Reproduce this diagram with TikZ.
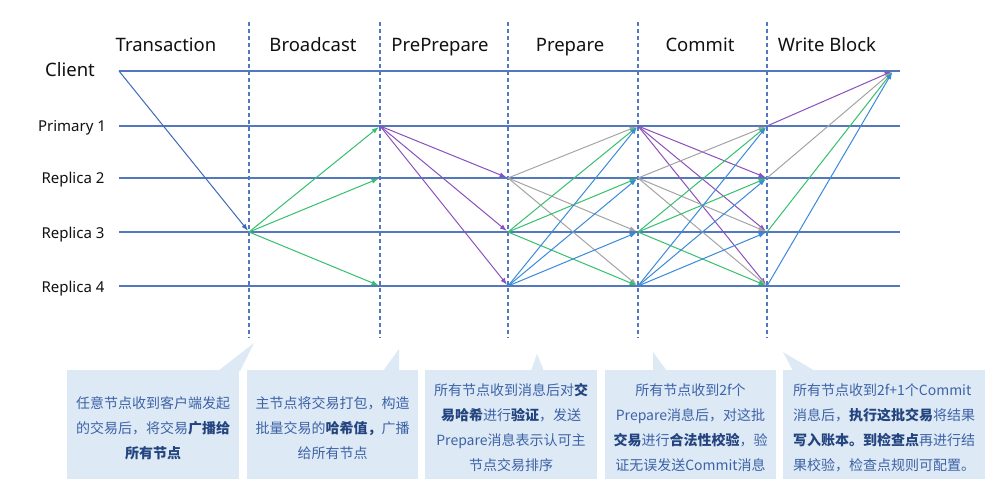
\documentclass[tikz,border=0pt]{standalone}
\usepackage{fontspec}
\setmainfont{Noto Sans}
\newfontfamily\cjk{Noto Sans CJK SC}
\usetikzlibrary{arrows.meta}
\definecolor{lineblue}{HTML}{5278C0}
\definecolor{arrblue}{HTML}{3A8ADA}
\definecolor{cliblue}{HTML}{3F6AB8}
\definecolor{arrgreen}{HTML}{34C06C}
\definecolor{arrpurple}{HTML}{8C4FBE}
\definecolor{arrgray}{HTML}{A4A4A4}
\definecolor{boxfill}{HTML}{DDEAF6}
\definecolor{boxtext}{HTML}{3D62A6}
\definecolor{boldtext}{HTML}{23447F}
\definecolor{headtext}{HTML}{111111}
\newcommand\hl[1]{{\bfseries\color{boldtext}#1}}
\tikzset{
  header/.style={font=\fontsize{18.5}{20}\selectfont, text=headtext, inner sep=0pt, anchor=base},
  rowlab/.style={font=\fontsize{15}{17}\selectfont, text=headtext, inner sep=0pt, anchor=base},
  clientlab/.style={font=\fontsize{18.5}{20}\selectfont, text=headtext, inner sep=0pt, anchor=base},
  hline/.style={draw=lineblue, line width=1.2pt},
  vdash/.style={draw=lineblue, line width=1.1pt, dash pattern=on 4pt off 3pt},
  msg/.style={line width=1pt, -{Latex[length=7pt,width=5pt]}, shorten >=1.5pt},
  bx/.style={fill=boxfill, inner sep=0pt, minimum height=109pt},
  bxtext/.style={font=\cjk\fontsize{14}{25}\selectfont, text=boxtext, align=center, inner sep=0pt},
}
\begin{document}
\begin{tikzpicture}[x=1pt,y=-1pt]
\useasboundingbox[fill=white] (0,0) rectangle (1000,497);

% headers
\node[header] (hT) at (166,52) {Transaction};
\node[header] (hB) at (313,52) {Broadcast};
\node[header] (hPP) at (440,52) {PrePrepare};
\node[header] (hP) at (570,52) {Prepare};
\node[header] (hC) at (700,52) {Commit};
\node[header] (hW) at (827,52) {Write Block};

% row labels
\node[clientlab] (lC) at (70,77) {Client};
\node[rowlab] (l1) at (72,132) {Primary 1};
\node[rowlab] (l2) at (73,183.5) {Replica 2};
\node[rowlab] (l3) at (73,238) {Replica 3};
\node[rowlab] (l4) at (73,292) {Replica 4};

% horizontal lines
\coordinate (s0) at (119,71);  \coordinate (e0) at (900,71);
\foreach \n/\y in {1/126,2/178,3/232,4/286}{
  \coordinate (s\n) at (119,\y);
  \coordinate (e\n) at (900,\y);
}
\foreach \n in {0,1,2,3,4}{ \draw[hline] (s\n) -- (e\n); }

% dashed phase separators
\foreach \p/\x in {A/249,B/380,C/508,D/638,E/767}{
  \coordinate (t\p) at (\x,22);
  \coordinate (b\p) at (\x,338);
  \draw[vdash] (t\p) -- (b\p);
}

% grid points
\foreach \n/\y in {1/126,2/178,3/232,4/286}{
  \foreach \p/\x in {A/249,B/380,C/508,D/638,E/767}{
    \coordinate (\p\n) at (\x,\y);
  }
}
\coordinate (W) at (893,71);

% client request
\draw[msg, cliblue] (s0) -- (A3);
% broadcast
\foreach \t in {1,2,4}{ \draw[msg, arrgreen] (A3) -- (B\t); }
% preprepare
\foreach \t in {2,3,4}{ \draw[msg, arrpurple] (B1) -- (C\t); }
% prepare
\foreach \t in {1,3,4}{ \draw[msg, arrgray] (C2) -- (D\t); }
\foreach \t in {1,2,4}{ \draw[msg, arrgreen] (C3) -- (D\t); }
\foreach \t in {1,2,3}{ \draw[msg, arrblue] (C4) -- (D\t); }
% commit
\foreach \t in {2,3,4}{ \draw[msg, arrpurple] (D1) -- (E\t); }
\foreach \t in {1,3,4}{ \draw[msg, arrgray] (D2) -- (E\t); }
\foreach \t in {1,2,4}{ \draw[msg, arrgreen] (D3) -- (E\t); }
\foreach \t in {1,2,3}{ \draw[msg, arrblue] (D4) -- (E\t); }
% write block
\draw[msg, arrpurple] (E1) -- (W);
\draw[msg, arrgray] (E2) -- (W);
\draw[msg, arrgreen] (E3) -- (W);
\draw[msg, arrblue] (E4) -- (W);

% callout boxes
\node[bx, minimum width=172pt] (box1) at (153,424.5) {};
\fill[boxfill] (218,371) -- (254,343) -- (240,371) -- cycle;
\node[bx, minimum width=171pt] (box2) at (332.5,424.5) {};
\fill[boxfill] (383,371) -- (399,349) -- (399,371) -- cycle;
\node[bx, minimum width=172pt] (box3) at (511,424.5) {};
\fill[boxfill] (531,371) -- (537,354) -- (544,371) -- cycle;
\node[bx, minimum width=171pt] (box4) at (690.5,424.5) {};
\fill[boxfill] (653,371) -- (653,352) -- (667,371) -- cycle;
\node[bx, minimum width=202pt] (box5) at (884,424.5) {};
\fill[boxfill] (793,371) -- (783,352) -- (815,371) -- cycle;

\node[bxtext] (t1) at (153,428) {任意节点收到客户端发起\\的交易后，将交易\hl{广播给}\\\hl{所有节点}};
\node[bxtext] (t2) at (332.5,428) {主节点将交易打包，构造\\批量交易的\hl{哈希值，}广播\\给所有节点};
\node[bxtext] (t3) at (511,428) {所有节点收到消息后对\hl{交}\\\hl{易哈希}进行\hl{验证}，发送\\Prepare消息表示认可主\\节点交易排序};
\node[bxtext] (t4) at (690.5,428) {所有节点收到2f个\\Prepare消息后，对这批\\\hl{交易}进行\hl{合法性校验}，验\\证无误发送Commit消息};
\node[bxtext, align=left] (t5) at (884,428) {所有节点收到2f+1个Commit\\消息后，\hl{执行这批交易}将结果\\\hl{写入账本。到检查点}再进行结\\果校验，检查点规则可配置。};
\end{tikzpicture}
\end{document}
